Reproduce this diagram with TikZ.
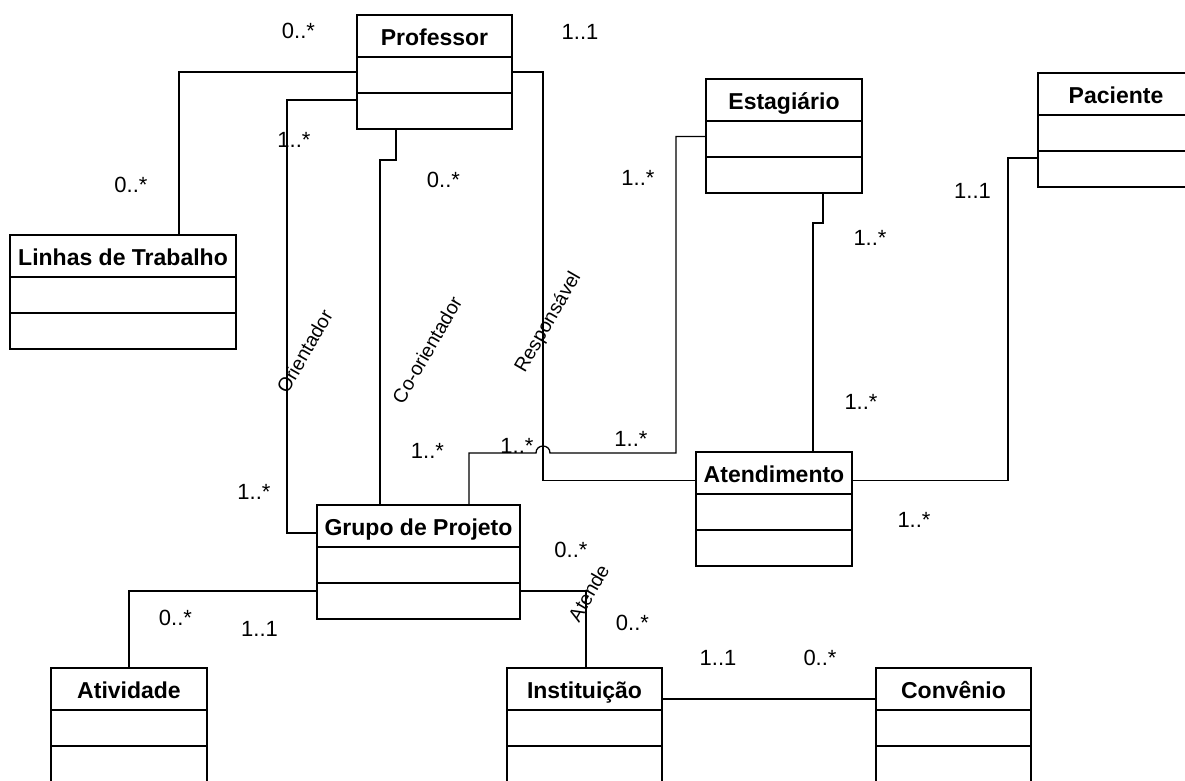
\documentclass[tikz,border=0pt]{standalone}
\usepackage{fontspec}
\setmainfont{Liberation Sans}

% A UML class: header with the class name, then the attribute and operation compartments
% #1 name, #2 left, #3 top, #4 width, #5 class name
\newcommand\umlclass[5]{%
  \node[classhead, minimum width=#4pt, anchor=north west] (#1) at (#2,#3) {#5};
  \node[classpart, minimum width=#4pt, anchor=north] (#1-a) at (#1.south) {};
  \node[classpart, minimum width=#4pt, anchor=north] (#1-o) at (#1-a.south) {};
}

\begin{document}
\begin{tikzpicture}[x=1pt,y=-1pt,
  classhead/.style={draw, line width=2pt, inner sep=0pt, outer sep=0pt,
    minimum height=42pt, text height=21pt, text depth=1.6pt,
    font=\fontsize{23}{27}\selectfont\bfseries},
  classpart/.style={draw, line width=2pt, inner sep=0pt, outer sep=0pt,
    minimum height=36pt},
  assoc/.style={line width=1.3pt},
  mult/.style={inner sep=0pt, font=\fontsize{22}{26}\selectfont},
  role/.style={inner sep=0pt, rotate=60, font=\fontsize{19.5}{23}\selectfont}]

\useasboundingbox (0,0) rectangle (1185,780);
\clip (0,0) rectangle (1185,780);

% classes
\umlclass{prof}{357}{15}{155}{Professor}
\umlclass{linhas}{10}{235}{226}{Linhas de Trabalho}
\umlclass{estag}{706}{79}{156}{Estagiário}
\umlclass{pac}{1038}{73}{156}{Paciente}
\umlclass{aten}{696}{452}{156}{Atendimento}
\umlclass{grupo}{317}{505}{203}{Grupo de Projeto}
\umlclass{ativ}{51}{668}{156}{Atividade}
\umlclass{inst}{507}{668}{155}{Instituição}
\umlclass{conv}{876}{668}{155}{Convênio}

% associations
\draw[assoc] ([yshift=3pt]prof-a.west) -| ([xshift=56pt]linhas.north);
\draw[assoc] ([yshift=11pt]prof-o.west) -- ++(-70,0) |- ([yshift=-7pt]grupo.west);
\draw[assoc] ([xshift=-38.5pt]prof-o.south) -- ++(0,31) -| ([xshift=-38.5pt]grupo.north);
\draw[assoc] ([yshift=3pt]prof-a.east) -- ++(31,0) |- ([yshift=-7.5pt]aten.west);
\draw[assoc] ([xshift=50.5pt]grupo.north) |- (536,453)
  .. controls (536,443.7) and (550,443.7) .. (550,453)
  -- (676,453) |- ([yshift=2.5pt]estag-a.west);
\draw[assoc] ([xshift=39pt]estag-o.south) -- ++(0,30) -| ([xshift=39pt]aten.north);
\draw[assoc] ([yshift=-7.5pt]aten.east) -- ++(156,0) |- ([yshift=11pt]pac-o.west);
\draw[assoc] ([yshift=10pt]grupo-o.west) -| (ativ.north);
\draw[assoc] ([yshift=10pt]grupo-o.east) -| ([xshift=1.5pt]inst.north);
\draw[assoc] ([yshift=-10pt]inst.east) -- ([yshift=-10pt]conv.west);

% role names
\node[role] (rOrient) at (304.5,351.5) {Orientador};
\node[role] (rCo) at (427,350) {Co-orientador};
\node[role] (rResp) at (548.5,322.5) {Responsável};
\node[role] (rAtende) at (588.5,593) {Atende};

% multiplicities
\node[mult] (m1) at (298.5,31) {0..*};
\node[mult] (m2) at (580,32) {1..1};
\node[mult] (m3) at (131,185) {0..*};
\node[mult] (m4) at (294,140) {1..*};
\node[mult] (m5) at (443.5,180) {0..*};
\node[mult] (m6) at (638,178) {1..*};
\node[mult] (m7) at (972.5,191) {1..1};
\node[mult] (m8) at (870,238) {1..*};
\node[mult] (m9) at (861,402) {1..*};
\node[mult] (m10) at (427.5,451) {1..*};
\node[mult] (m11) at (517,446) {1..*};
\node[mult] (m12) at (631,439) {1..*};
\node[mult] (m13) at (254,492) {1..*};
\node[mult] (m14) at (914,520) {1..*};
\node[mult] (m15) at (571,549.5) {0..*};
\node[mult] (m16) at (175.5,618) {0..*};
\node[mult] (m17) at (259.5,629) {1..1};
\node[mult] (m18) at (632.5,622.5) {0..*};
\node[mult] (m19) at (718,658) {1..1};
\node[mult] (m20) at (820,658) {0..*};
\end{tikzpicture}
\end{document}
